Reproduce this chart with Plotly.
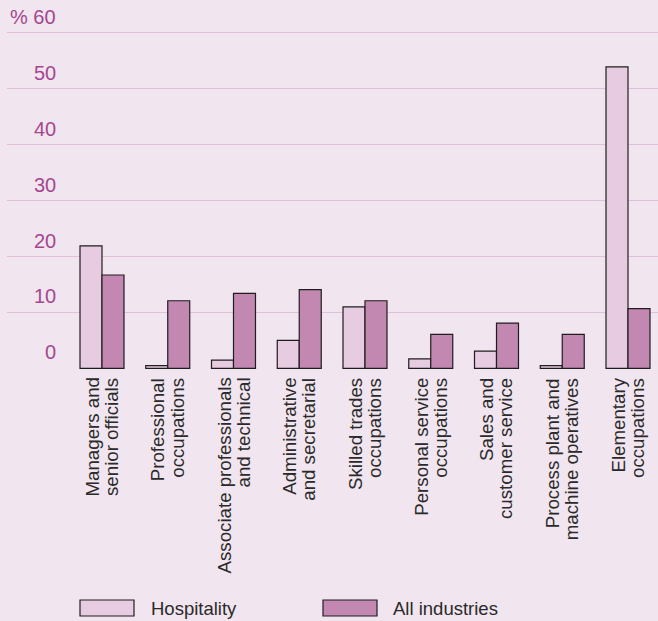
import plotly.graph_objects as go

# Occupation groups (two-line labels)
categories = [
    "Managers and<br>senior officials",
    "Professional<br>occupations",
    "Associate professionals<br>and technical",
    "Administrative<br>and secretarial",
    "Skilled trades<br>occupations",
    "Personal service<br>occupations",
    "Sales and<br>customer service",
    "Process plant and<br>machine operatives",
    "Elementary<br>occupations",
]

hospitality = [21.9, 0.5, 1.5, 5.0, 11.0, 1.7, 3.1, 0.5, 53.9]
all_industries = [16.7, 12.1, 13.4, 14.1, 12.1, 6.1, 8.1, 6.1, 10.7]

series_names = ["Hospitality", "All industries"]

y_tickvals = [0, 10, 20, 30, 40, 50, 60]
y_ticktext = ["0", "10", "20", "30", "40", "50", "% 60"]

# Styling
W, H = 658, 621
BG = "#f1e5ef"
GRID = "#e1c0da"
TICK_COLOR = "#a4478f"
TEXT_COLOR = "#2a2a2a"
OUTLINE = "#1e1e1e"
FILLS = ["#e7cbe0", "#c288b2"]
FONT = "Liberation Sans, Arial, sans-serif"

# Plot area in pixels
PL, PR, PT, PB = 7, 658, 31, 369
plot_w = PR - PL
plot_h = PB - PT
Y_RANGE = [-0.1, 60.3]


def px_x(px):
    return (px - PL) / plot_w


def px_y(py):
    return (PB - py) / plot_h


idx = list(range(len(categories)))

fig = go.Figure()
for name, vals, fill in zip(series_names, [hospitality, all_industries], FILLS):
    fig.add_trace(go.Bar(
        x=idx, y=vals, name=name,
        marker=dict(color=fill, line=dict(color=OUTLINE, width=1.2)),
        showlegend=False,
    ))

annotations = []

# Y tick labels sit just above their gridlines, right-aligned
for v, t in zip(y_tickvals, y_ticktext):
    annotations.append(dict(
        x=px_x(58), xref="paper", xanchor="right",
        y=v, yref="y", yanchor="bottom", yshift=3,
        text=t, showarrow=False,
        font=dict(family=FONT, size=20, color=TICK_COLOR),
    ))

# Rotated category labels, one annotation per line
line_step = 19
for i, cat in enumerate(categories):
    lines = cat.split("<br>")
    n = len(lines)
    for k, ln in enumerate(lines):
        annotations.append(dict(
            x=i, xref="x", xshift=(k - (n - 1) / 2) * line_step - 0.5,
            y=0, yref="paper", yanchor="top", yshift=-7,
            xanchor="center",
            text=ln, textangle=-90, showarrow=False,
            font=dict(family=FONT, size=18.7, color=TEXT_COLOR),
        ))

# Legend: wide swatches with labels
shapes = []
legend_items = [(80, 134, 149), (323, 377, 391)]
for (x0, x1, tx), name, fill in zip(legend_items, series_names, FILLS):
    shapes.append(dict(
        type="rect", xref="paper", yref="paper",
        x0=px_x(x0), x1=px_x(x1), y0=px_y(616), y1=px_y(600),
        fillcolor=fill, line=dict(color=OUTLINE, width=1.2),
    ))
    annotations.append(dict(
        x=px_x(tx), xref="paper", xanchor="left",
        y=px_y(608), yref="paper", yanchor="middle",
        text=name, showarrow=False,
        font=dict(family=FONT, size=18.5, color=TEXT_COLOR),
    ))

# x range so that group centres fall at the right pixel positions
x_first, spacing = 102, 65.75
x_lo = (PL - x_first) / spacing
x_hi = (PR - x_first) / spacing

fig.update_layout(
    width=W, height=H,
    margin=dict(l=PL, r=W - PR, t=PT, b=H - PB, pad=0),
    paper_bgcolor=BG, plot_bgcolor=BG,
    barmode="group", bargap=0.331, bargroupgap=0,
    font=dict(family=FONT),
    xaxis=dict(
        range=[x_lo, x_hi], showticklabels=False, showgrid=False,
        zeroline=False, showline=False, ticks="",
    ),
    yaxis=dict(
        range=Y_RANGE, tickvals=y_tickvals, showticklabels=False,
        showgrid=True, gridcolor=GRID, gridwidth=1.3,
        zeroline=False, showline=False, ticks="",
    ),
    annotations=annotations,
    shapes=shapes,
    showlegend=False,
)

fig.write_html("out.html")
